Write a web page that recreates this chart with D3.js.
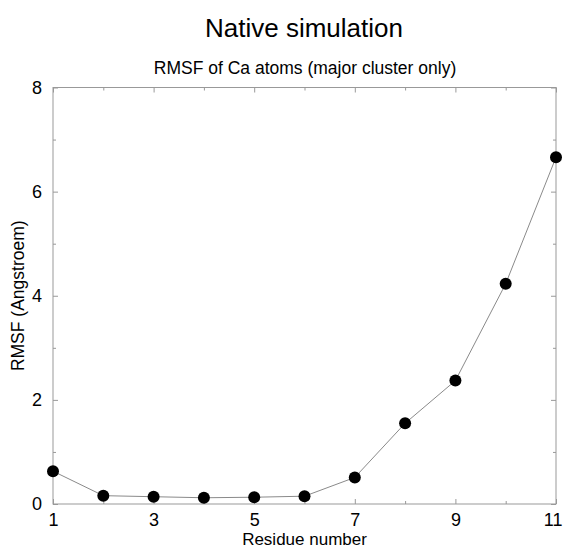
<!DOCTYPE html>
<html><head><meta charset="utf-8">
<script src="https://cdn.jsdelivr.net/npm/d3@7"></script>
<style>body{margin:0;background:#fff}svg{display:block}text{font-family:"Liberation Sans",Arial,sans-serif}</style>
</head><body>
<script>
const residues = [1,2,3,4,5,6,7,8,9,10,11];
const rmsf = [0.63,0.16,0.14,0.12,0.13,0.15,0.51,1.55,2.37,4.23,6.66];
const xTicks = [1,3,5,7,9,11];
const xMinor = [2,4,6,8,10];
const yTicks = [0,2,4,6,8];
const yMinor = [1,3,5,7];
const title = "Native simulation";
const subtitle = "RMSF of Ca atoms (major cluster only)";
const xLabel = "Residue number";
const yLabel = "RMSF (Angstroem)";

const W=563,H=550;
const L=53,R=556,T=87.5,B=504;
const svg=d3.select("body").append("svg").attr("width",W).attr("height",H);
const x=d3.scaleLinear().domain([1,11]).range([L,R]);
const y=d3.scaleLinear().domain([0,8]).range([B,T]);
const frameCol="#999";

svg.append("rect").attr("x",L).attr("y",T).attr("width",R-L).attr("height",B-T)
  .attr("fill","none").attr("stroke",frameCol).attr("stroke-width",1);

const gb=svg.append("g").attr("transform",`translate(0,${B})`)
  .call(d3.axisBottom(x).tickValues(xTicks).tickSize(-5).tickPadding(9).tickFormat(d3.format("d")));
const gbm=svg.append("g").attr("transform",`translate(0,${B})`)
  .call(d3.axisBottom(x).tickValues(xMinor).tickSize(-3).tickFormat(""));
const gt=svg.append("g").attr("transform",`translate(0,${T})`)
  .call(d3.axisTop(x).tickValues(xTicks).tickSize(-5).tickFormat(""));
const gtm=svg.append("g").attr("transform",`translate(0,${T})`)
  .call(d3.axisTop(x).tickValues(xMinor).tickSize(-3).tickFormat(""));
const gl=svg.append("g").attr("transform",`translate(${L},0)`)
  .call(d3.axisLeft(y).tickValues(yTicks).tickSize(-5).tickPadding(11).tickFormat(d3.format("d")));
const glm=svg.append("g").attr("transform",`translate(${L},0)`)
  .call(d3.axisLeft(y).tickValues(yMinor).tickSize(-3).tickFormat(""));
const gr=svg.append("g").attr("transform",`translate(${R},0)`)
  .call(d3.axisRight(y).tickValues(yTicks).tickSize(-5).tickFormat(""));
const grm=svg.append("g").attr("transform",`translate(${R},0)`)
  .call(d3.axisRight(y).tickValues(yMinor).tickSize(-3).tickFormat(""));
[gb,gbm,gt,gtm,gl,glm,gr,grm].forEach(g=>{
  g.select(".domain").remove();
  g.selectAll("line").attr("stroke",frameCol);
  g.selectAll("text").attr("fill","#000").style("font-size","18px").style("font-family",'"Liberation Sans",Arial,sans-serif');
});
// keep the last x label inside the window
gb.selectAll(".tick").filter(d=>d===11).select("text").attr("text-anchor","end").attr("x",W-1-R);

const line=d3.line().x((d,i)=>x(residues[i])).y(d=>y(d));
svg.append("path").datum(rmsf).attr("d",line).attr("fill","none").attr("stroke","#8a8a8a").attr("stroke-width",1);
svg.selectAll("circle.pt").data(rmsf).join("circle").attr("class","pt")
  .attr("cx",(d,i)=>x(residues[i])).attr("cy",d=>y(d)).attr("r",6).attr("fill","#000");

svg.append("text").attr("x",304).attr("y",37).attr("text-anchor","middle").style("font-size","26px").text(title);
svg.append("text").attr("x",305).attr("y",73.5).attr("text-anchor","middle").style("font-size","17.5px").text(subtitle);
svg.append("text").attr("x",(L+R)/2).attr("y",545).attr("text-anchor","middle").style("font-size","17px").text(xLabel);
svg.append("text").attr("transform",`translate(24,${(T+B)/2}) rotate(-90)`).attr("text-anchor","middle").style("font-size","17.5px").text(yLabel);
</script>
</body></html>
